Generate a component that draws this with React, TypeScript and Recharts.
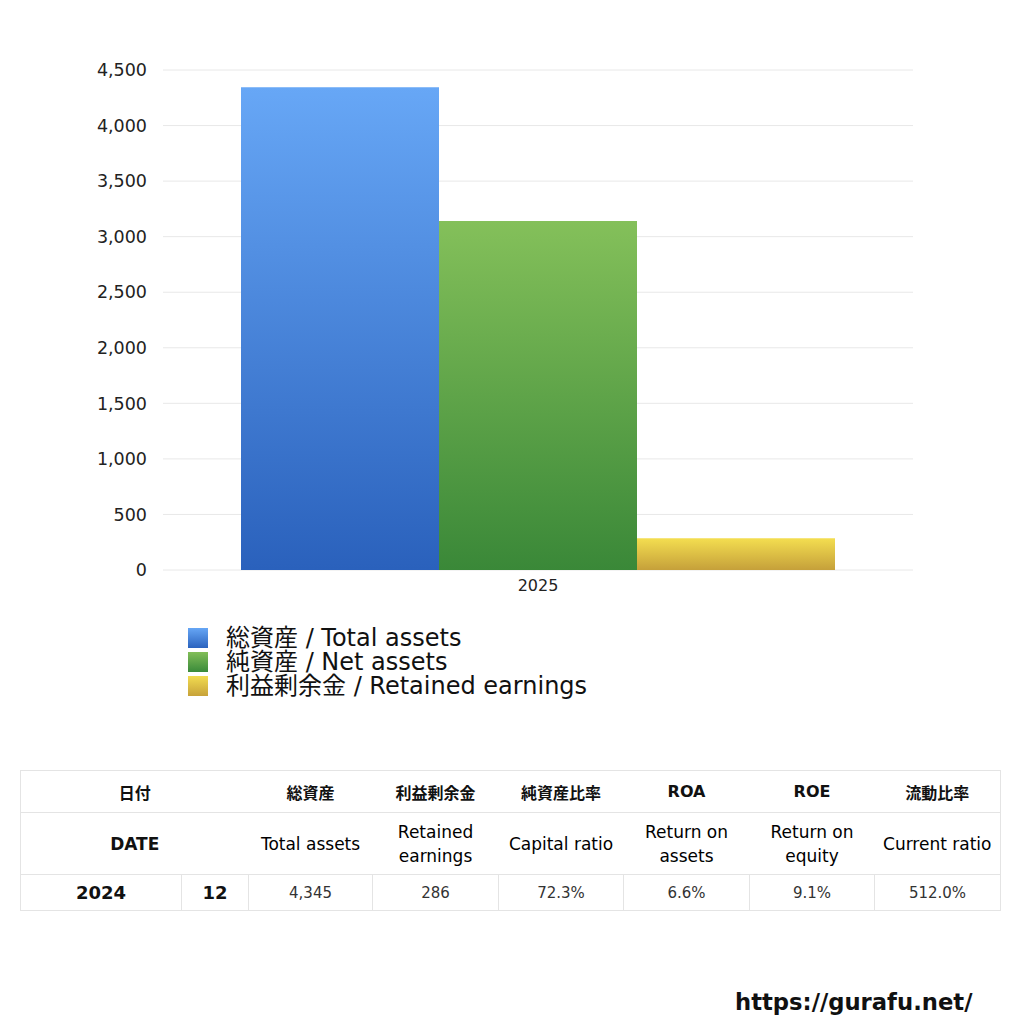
import React from "react";
import { BarChart, Bar, XAxis, YAxis, CartesianGrid } from "recharts";

const categories = ["2025"];
const totalAssets = [4345];
const netAssets = [3141];
const retainedEarnings = [286];
const yTicks = [0, 500, 1000, 1500, 2000, 2500, 3000, 3500, 4000, 4500];

const seriesNames = ["総資産 / Total assets", "純資産 / Net assets", "利益剰余金 / Retained earnings"];

const tableHeadJa = ["日付", "", "総資産", "利益剰余金", "純資産比率", "ROA", "ROE", "流動比率"];
const tableHeadEn = ["DATE", "", "Total assets", "Retained earnings", "Capital ratio", "Return on assets", "Return on equity", "Current ratio"];
const tableRow = ["2024", "12", "4,345", "286", "72.3%", "6.6%", "9.1%", "512.0%"];

const data = categories.map((c, i) => ({
  name: c,
  total: totalAssets[i],
  net: netAssets[i],
  retained: retainedEarnings[i],
}));

const FONT = "'DejaVu Sans', 'Noto Sans CJK JP', sans-serif";
const colW = [161, 67, 124, 126, 125, 126, 125, 126];
const legendColors = [
  ["#66A6F5", "#2B63BE"],
  ["#82BE58", "#3A8A3A"],
  ["#F2DC50", "#C7A23A"],
];

const fmt = (v: number) => v.toLocaleString("en-US");

export default function App() {
  const border = "1px solid #e4e4e4";
  return (
    <div style={{ position: "absolute", left: 0, top: 0, width: 1024, height: 1024, background: "#fff", fontFamily: FONT }}>
      <div style={{ position: "absolute", left: 0, top: 0 }}>
        <BarChart
          width={1024}
          height={610}
          data={data}
          margin={{ top: 70, right: 111, bottom: 10, left: 0 }}
          barCategoryGap="10.4%"
          barGap={0}
        >
          <defs>
            <linearGradient id="gBlue" x1="0" y1="0" x2="0" y2="1">
              <stop offset="0%" stopColor="#67A7F6" />
              <stop offset="100%" stopColor="#2A61BC" />
            </linearGradient>
            <linearGradient id="gGreen" x1="0" y1="0" x2="0" y2="1">
              <stop offset="0%" stopColor="#84C05A" />
              <stop offset="100%" stopColor="#3A8838" />
            </linearGradient>
            <linearGradient id="gYellow" x1="0" y1="0" x2="0" y2="1">
              <stop offset="0%" stopColor="#F4DE50" />
              <stop offset="100%" stopColor="#C5A03A" />
            </linearGradient>
          </defs>
          <CartesianGrid vertical={false} stroke="#e8e8e8" />
          <XAxis
            dataKey="name"
            axisLine={false}
            tickLine={false}
            tickSize={0}
            tickMargin={10}
            tick={{ fill: "#222", fontSize: 16, fontFamily: FONT }}
          />
          <YAxis
            width={163}
            domain={[0, 4500]}
            ticks={yTicks}
            axisLine={false}
            tickLine={false}
            tickSize={0}
            tickMargin={16}
            tickFormatter={fmt}
            tick={{ fill: "#222", fontSize: 17.5, fontFamily: FONT }}
          />
          <Bar dataKey="total" fill="url(#gBlue)" isAnimationActive={false} />
          <Bar dataKey="net" fill="url(#gGreen)" isAnimationActive={false} />
          <Bar dataKey="retained" fill="url(#gYellow)" isAnimationActive={false} />
        </BarChart>
      </div>

      <div style={{ position: "absolute", left: 188, top: 626 }}>
        {seriesNames.map((n, i) => (
          <div key={n} style={{ display: "flex", alignItems: "center", height: 24 }}>
            <div
              style={{
                width: 20,
                height: 20,
                background: `linear-gradient(${legendColors[i][0]}, ${legendColors[i][1]})`,
                marginRight: 18,
              }}
            />
            <span style={{ fontSize: 24, color: "#111", lineHeight: "24px", whiteSpace: "nowrap" }}>{n}</span>
          </div>
        ))}
      </div>

      <table
        style={{
          position: "absolute",
          left: 20,
          top: 770,
          width: 980,
          borderCollapse: "collapse",
          tableLayout: "fixed",
          fontFamily: FONT,
          color: "#111",
        }}
      >
        <colgroup>
          {colW.map((w, i) => (
            <col key={i} style={{ width: w }} />
          ))}
        </colgroup>
        <tbody>
          <tr style={{ height: 42 }}>
            <td colSpan={2} style={{ borderTop: border, borderLeft: border, textAlign: "center", fontWeight: 700, fontSize: 16 }}>
              {tableHeadJa[0]}
            </td>
            {tableHeadJa.slice(2).map((t, i) => (
              <td
                key={i}
                style={{
                  borderTop: border,
                  borderRight: i === tableHeadJa.length - 3 ? border : undefined,
                  textAlign: "center",
                  fontWeight: 700,
                  fontSize: 16,
                }}
              >
                {t}
              </td>
            ))}
          </tr>
          <tr style={{ height: 62 }}>
            <td colSpan={2} style={{ borderTop: border, borderLeft: border, textAlign: "center", fontWeight: 700, fontSize: 17 }}>
              {tableHeadEn[0]}
            </td>
            {tableHeadEn.slice(2).map((t, i) => (
              <td
                key={i}
                style={{
                  borderTop: border,
                  borderRight: i === tableHeadEn.length - 3 ? border : undefined,
                  textAlign: "center",
                  fontWeight: 400,
                  fontSize: 17,
                  lineHeight: "24px",
                  padding: "0 1px",
                  color: "#000",
                  whiteSpace: i === 0 || i === 2 || i === 5 ? "nowrap" : "normal",
                }}
              >
                {t}
              </td>
            ))}
          </tr>
          <tr style={{ height: 36 }}>
            {tableRow.map((t, i) => (
              <td
                key={i}
                style={{
                  border: border,
                  textAlign: "center",
                  fontWeight: i < 2 ? 700 : 400,
                  fontSize: i < 2 ? 18 : 15,
                  color: i < 2 ? "#111" : "#333",
                }}
              >
                {t}
              </td>
            ))}
          </tr>
        </tbody>
      </table>

      <div style={{ position: "absolute", left: 735, top: 989, fontSize: 22.7, fontWeight: 700, color: "#111", whiteSpace: "nowrap" }}>
        https://gurafu.net/
      </div>
    </div>
  );
}
